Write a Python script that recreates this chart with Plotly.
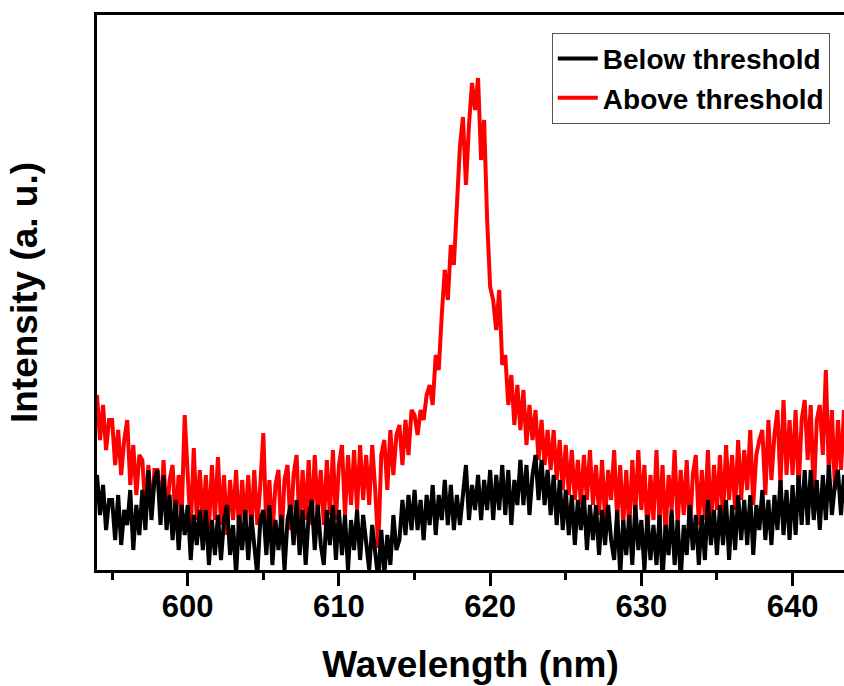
import numpy as np
import plotly.graph_objects as go

# wavelength grid of the spectra (nm), 0.2 nm steps
wavelength = np.round(np.arange(594.0, 643.41, 0.2), 1)

# Intensity above threshold (a. u.)
above = [
    175, 130, 165, 120, 150,
    150, 105, 140, 95, 130,
    150, 85, 125, 75, 115,
    110, 60, 105, 55, 100,
    100, 55, 110, 50, 90,
    105, 45, 95, 55, 155,
    95, 40, 122, 50, 100,
    45, 95, 40, 105, 50,
    113, 45, 95, 35, 90,
    50, 100, 35, 90, 45,
    95, 40, 100, 45, 85,
    137, 40, 90, 35, 85,
    100, 30, 90, 105, 40,
    95, 115, 40, 100, 50,
    110, 45, 115, 55, 100,
    45, 110, 55, 120, 50,
    105, 125, 55, 115, 65,
    120, 60, 125, 70, 115,
    65, 125, 80, 22, 115,
    130, 80, 140, 95, 135,
    145, 105, 150, 115, 160,
    155, 135, 160, 150, 175,
    185, 165, 215, 200, 255,
    300, 270, 325, 305, 372,
    423, 453, 385, 445, 487,
    460, 492, 410, 450, 350,
    283, 270, 240, 280, 205,
    215, 165, 195, 145, 185,
    140, 180, 125, 165, 130,
    160, 110, 150, 105, 140,
    100, 140, 90, 130, 80,
    125, 75, 120, 70, 110,
    65, 115, 70, 120, 65,
    105, 55, 110, 50, 100,
    70, 120, 50, 105, 45,
    100, 40, 110, 55, 120,
    60, 105, 35, 95, 50,
    120, 45, 105, 35, 95,
    60, 120, 45, 100, 55,
    110, 35, 95, 115, 45,
    100, 50, 120, 40, 105,
    60, 115, 50, 125, 70,
    115, 60, 130, 70, 120,
    80, 140, 65, 115, 130,
    140, 75, 150, 90, 135,
    160, 85, 170, 95, 150,
    95, 160, 80, 150, 170,
    110, 165, 70, 150, 165,
    115, 200, 95, 160, 80,
    150, 100, 160,
]

# Intensity below threshold (a. u.)
below = [
    95, 55, 85, 40, 70,
    70, 30, 75, 25, 60,
    45, 80, 20, 65, 35,
    80, 40, 100, 50, 90,
    100, 45, 95, 40, 75,
    30, 70, 20, 65, 35,
    65, 10, 55, 25, 60,
    20, 60, 5, 50, 15,
    55, 10, 50, 65, 15,
    45, -5, 55, 20, 60,
    10, 55, 25, -5, 50,
    60, 15, 65, 5, 50,
    20, 55, 0, 50, 65,
    25, 70, 15, 60, 5,
    55, 70, 20, 65, 25,
    5, 60, 25, 65, 10,
    60, 15, 55, 0, 50,
    20, 60, 10, 55, 25,
    0, 45, 15, -10, 40,
    -5, 35, 5, 55, 20,
    30, 70, 35, 75, 40,
    80, 40, 70, 30, 75,
    45, 85, 35, 75, 50,
    90, 45, 85, 40, 75,
    45, 75, 105, 50, 85,
    60, 95, 50, 90, 60,
    100, 50, 95, 60, 105,
    55, 100, 45, 90, 65,
    110, 65, 105, 55, 95,
    115, 70, 110, 65, 100,
    55, 95, 45, 90, 40,
    80, 35, 75, 25, 70,
    40, 75, 20, 65, 30,
    65, 15, 60, 25, 65,
    30, 10, 60, -5, 50,
    15, 55, 5, 65, 20,
    50, 0, 55, 10, 45,
    5, 55, -10, 45, 15,
    60, 5, 50, -10, 45,
    15, 65, 20, 55, 5,
    55, 10, 70, 25, 60,
    15, 65, 25, 70, 10,
    65, 20, 75, 30, 70,
    25, 75, 15, 65, 40,
    80, 30, 70, 25, 75,
    40, 90, 35, 80, 30,
    85, 35, 95, 45, 100,
    45, 100, 50, 90, 40,
    95, 50, 105, 55, 85,
    100, 55, 95,
]

x_ticks = [600, 610, 620, 630, 640]

font = "Liberation Sans, Arial, sans-serif"

fig = go.Figure()
fig.add_trace(go.Scatter(x=wavelength, y=above, mode="lines", name="Above threshold",
                         line=dict(color="#ff0000", width=4)))
fig.add_trace(go.Scatter(x=wavelength, y=below, mode="lines", name="Below threshold",
                         line=dict(color="#000000", width=4)))

fig.update_layout(
    width=844, height=686,
    margin=dict(l=97, r=0, t=15, b=116),
    plot_bgcolor="white", paper_bgcolor="white",
    font=dict(family=font, color="black"),
    legend=dict(
        x=0.981, y=0.968, xanchor="right", yanchor="top",
        traceorder="reversed",
        bgcolor="white", bordercolor="#555555", borderwidth=1,
        font=dict(size=28, family=font, weight="bold"),
        itemwidth=40,
        tracegroupgap=0,
    ),
)

fig.update_xaxes(
    range=[594, 643.4],
    tickvals=x_ticks,
    ticks="outside", ticklen=13, tickwidth=3, tickcolor="black",
    minor=dict(dtick=5, tick0=595, ticks="outside", ticklen=7, tickwidth=3, tickcolor="black"),
    showline=True, linewidth=3, linecolor="black", mirror=True,
    showgrid=False, zeroline=False,
    tickfont=dict(size=31, family=font, weight="bold"),
    ticklabelstandoff=-6,
    automargin=False,
    title=dict(text="Wavelength (nm)", font=dict(size=37, family=font, weight="bold"), standoff=28),
)

fig.update_yaxes(
    range=[0, 555],
    showticklabels=False, ticks="",
    showline=True, linewidth=3, linecolor="black",
    showgrid=False, zeroline=False,
    automargin=False,
    title=dict(text="Intensity (a. u.)", font=dict(size=37, family=font, weight="bold"), standoff=46),
)

# drop the default page margin so the figure fills the window exactly
fig.write_html("out.html",
               config={"displayModeBar": False},
               post_script="document.body.style.margin='0';document.body.style.overflow='hidden';")
